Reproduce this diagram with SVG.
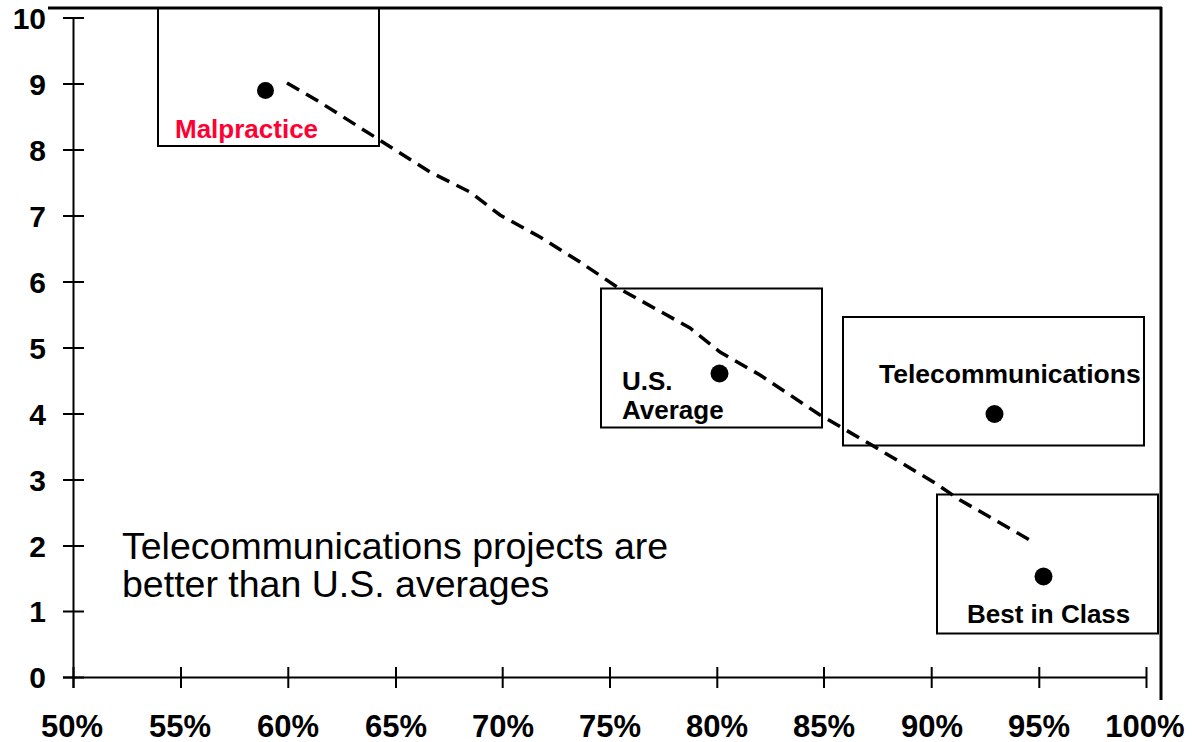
<svg xmlns="http://www.w3.org/2000/svg" width="1192" height="742" viewBox="0 0 1192 742">
<style>
.ax{stroke:#000;stroke-width:2;fill:none}
.frame{stroke:#000;stroke-width:3;fill:none}
.box{stroke:#000;stroke-width:2;fill:none}
.dot{fill:#000}
.lbl{font-family:"Liberation Sans",Arial,sans-serif;font-weight:bold;font-size:26px;fill:#000}
.tick{font-family:"Liberation Sans",Arial,sans-serif;font-weight:bold;font-size:30px;fill:#000}
.note{font-family:"Liberation Sans",Arial,sans-serif;font-size:37.5px;fill:#000}
.trend{stroke:#000;stroke-width:3.5;fill:none;stroke-dasharray:14 8}
</style>
<rect width="1192" height="742" fill="#fff"/>
<g id="frame">
<line class="frame" x1="48" y1="8" x2="1162" y2="8"/>
<line class="frame" x1="1161" y1="7" x2="1161" y2="700"/>
</g>
<g id="y-axis">
<line class="ax" x1="73.5" y1="18" x2="73.5" y2="688"/>
<path class="ax" d="M63 18H84M63 84H84M63 150H84M63 216H84M63 282H84M63 348H84M63 414H84M63 480H84M63 546H84M63 611.5H84M63 677.5H84"/>
<g class="tick" text-anchor="end">
<text x="46" y="29">10</text>
<text x="46" y="95">9</text>
<text x="46" y="161">8</text>
<text x="46" y="227">7</text>
<text x="46" y="293">6</text>
<text x="46" y="359">5</text>
<text x="46" y="425">4</text>
<text x="46" y="491">3</text>
<text x="46" y="557">2</text>
<text x="46" y="622">1</text>
<text x="46" y="688">0</text>
</g>
</g>
<g id="x-axis">
<line class="ax" x1="63" y1="677.5" x2="1147" y2="677.5"/>
<path class="ax" d="M73.5 667V688M181 667V688M288.3 667V688M396 667V688M502.7 667V688M610 667V688M717.3 667V688M824 667V688M931.7 667V688M1039.3 667V688M1146.5 667V688"/>
<g class="tick" text-anchor="middle" style="font-size:31px">
<text x="72" y="737">50%</text>
<text x="180" y="737">55%</text>
<text x="288" y="737">60%</text>
<text x="396" y="737">65%</text>
<text x="503" y="737">70%</text>
<text x="610" y="737">75%</text>
<text x="717" y="737">80%</text>
<text x="824" y="737">85%</text>
<text x="932" y="737">90%</text>
<text x="1039" y="737">95%</text>
<text x="1145" y="737">100%</text>
</g>
</g>
<g id="connectors">
<polyline class="trend" points="287,83 318,101 378,139 430,172 470,192 500,215 540,237 580,262 620,289 690,328 720,352 760,375 820,415 870,444 935,483 960,500 1035,543"/>
</g>
<g id="malpractice">
<rect class="box" x="158" y="8" width="221" height="138"/>
<circle class="dot" cx="265.5" cy="90.5" r="8.5"/>
<text class="lbl" x="175" y="138" style="fill:#ff0033">Malpractice</text>
</g>
<g id="us-average">
<rect class="box" x="601" y="288.5" width="221" height="139"/>
<circle class="dot" cx="719.5" cy="373.5" r="9"/>
<text class="lbl" x="622" y="390">U.S.</text>
<text class="lbl" x="622" y="419">Average</text>
</g>
<g id="telecommunications">
<rect class="box" x="843" y="317" width="301" height="128.5"/>
<circle class="dot" cx="994.5" cy="414" r="9"/>
<text class="lbl" x="879" y="383" style="font-size:26.5px">Telecommunications</text>
</g>
<g id="best-in-class">
<rect class="box" x="937" y="494.5" width="221" height="139"/>
<circle class="dot" cx="1043.5" cy="576.5" r="9"/>
<text class="lbl" x="967" y="623">Best in Class</text>
</g>
<g id="note">
<text class="note" x="122" y="559">Telecommunications projects are</text>
<text class="note" x="122" y="597">better than U.S. averages</text>
</g>
</svg>
